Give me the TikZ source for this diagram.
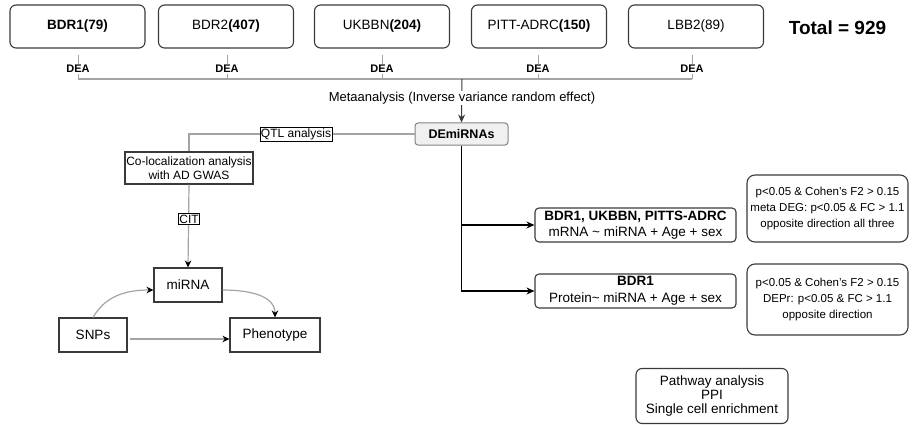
\documentclass[tikz,border=0pt]{standalone}
\usepackage{fontspec}
\setmainfont{Liberation Sans}
\usetikzlibrary{arrows.meta}
\definecolor{boxline}{HTML}{3A3A3A}
\definecolor{glines}{HTML}{A4A4A4}
\definecolor{defill}{HTML}{F0F0F0}
\begin{document}
\begin{tikzpicture}[x=1pt,y=-1pt,
  topbox/.style={draw=boxline, line width=1.1pt, rounded corners=6pt, minimum width=135pt, minimum height=43pt, font=\fontsize{13.5}{16}\selectfont},
  plainbox/.style={draw=boxline, line width=1.1pt, minimum height=34pt, font=\fontsize{13.5}{16}\selectfont, inner sep=2pt},
  lbl/.style={fill=white, inner sep=1pt},
  tagbox/.style={draw=black, line width=0.9pt, fill=white, inner sep=1pt, font=\fontsize{12}{14}\selectfont},
  rbox/.style={draw=boxline, line width=1.1pt, rounded corners=4pt, minimum width=201pt, minimum height=34pt, align=center, inner sep=1pt, font=\fontsize{13.5}{16.5}\selectfont},
  cbox/.style={draw=boxline, line width=1.1pt, rounded corners=8pt, minimum width=161pt, align=center, font=\fontsize{11.5}{16}\selectfont},
  gline/.style={draw=glines, line width=1.2pt},
  garr/.style={gline, -{Stealth[length=7pt,width=6.5pt,color=black]}},
  darr/.style={draw=black, line width=1.3pt, -{Stealth[length=8pt,width=7pt]}},
]
\useasboundingbox (0,0) rectangle (912,425);

% top boxes
\node[topbox, font=\fontsize{13.5}{16}\selectfont\bfseries] (b1) at (77.5,26.5) {BDR1(79)};
\node[topbox] (b2) at (226,26.5) {BDR2\textbf{(407)}};
\node[topbox] (b3) at (382,26.5) {UKBBN\textbf{(204)}};
\node[topbox] (b4) at (539,26.5) {PITT-ADRC\textbf{(150)}};
\node[topbox] (b5) at (696,26.5) {LBB2(89)};
\node[font=\fontsize{19}{22}\selectfont\bfseries] (tot) at (837.5,28) {Total = 929};

% DEA links
\foreach \i/\xx in {1/78,2/227,3/382,4/538,5/692}{
  \coordinate (t\i) at (\xx,55);
  \coordinate (h\i) at (\xx,79);
  \draw[gline, line width=0.9pt] (t\i) -- (h\i);
  \node[lbl, font=\fontsize{11}{12}\selectfont\bfseries] (dea\i) at (\xx,69) {DEA};
}
\draw[gline] (h1) -- (h5);

% DEmiRNAs
\node[draw=glines!80!black, line width=1pt, fill=defill, rounded corners=3pt, minimum width=93pt, minimum height=22pt, font=\fontsize{12.5}{15}\selectfont\bfseries] (de) at (461.5,134) {DEmiRNAs};
\coordinate (m) at (462,79);
\draw[draw=boxline, line width=1pt, -{Stealth[length=8pt,width=7pt]}] (m) -- (de.north);
\node[lbl, font=\fontsize{13}{15}\selectfont] (meta) at (462,98) {Metaanalysis (Inverse variance random effect)};

% left branch
\node[plainbox, minimum width=128pt, minimum height=32pt, align=center, inner sep=1pt, font=\fontsize{12}{14}\selectfont] (coloc) at (189,168) {Co-localization analysis\\with AD GWAS};
\coordinate (q) at (189,134);
\draw[gline] (de.west) -- (q) -- (coloc.north);
\node[tagbox] (qtl) at (296,134.5) {QTL analysis};

\node[plainbox, minimum width=68pt] (mirna) at (188,285) {miRNA};
\node[plainbox, minimum width=68pt] (snps) at (93,335) {SNPs};
\node[plainbox, minimum width=90pt] (pheno) at (275,335) {Phenotype};

\draw[garr] (coloc.south) -- (mirna.north);
\node[tagbox] (cit) at (189,219) {CIT};

\draw[garr] (snps.north) to[out=60,in=180] ([yshift=-5pt]mirna.west);
\draw[garr] ([yshift=-5pt]mirna.east) to[out=0,in=90] (pheno.north);
\draw[garr] ([xshift=2pt,yshift=-4pt]snps.east) -- ([yshift=-4pt]pheno.west);

% right branch
\node[rbox] (r1) at (635.5,225) {\textbf{BDR1, UKBBN, PITTS-ADRC}\\mRNA \textasciitilde{} miRNA + Age + sex};
\node[rbox] (r2) at (635.5,291) {\textbf{BDR1}\\Protein\textasciitilde{} miRNA + Age + sex};
\draw[darr] (de.south) |- (r1.west);
\draw[darr] (de.south) |- (r2.west);

\node[cbox, minimum height=67pt] (c1) at (827.5,208.5) {p<0.05 \& Cohen's F2 > 0.15\\meta DEG: p<0.05 \& FC > 1.1\\opposite direction all three};
\node[cbox, minimum height=71pt] (c2) at (827.5,299.5) {p<0.05 \& Cohen's F2 > 0.15\\DEPr: p<0.05 \& FC > 1.1\\opposite direction};

\node[draw=boxline, line width=1.1pt, rounded corners=6pt, minimum width=152pt, minimum height=55pt, align=center, inner sep=1pt, font=\fontsize{13.5}{14}\selectfont] (pw) at (712,396) {Pathway analysis\\PPI\\Single cell enrichment};
\end{tikzpicture}
\end{document}
